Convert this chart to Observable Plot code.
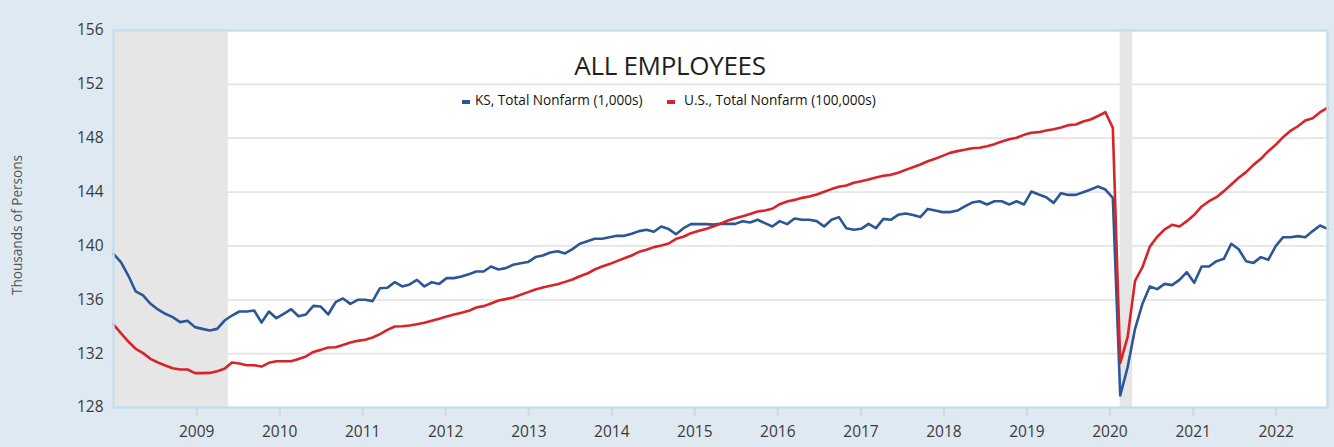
<!DOCTYPE html>
<html>
<head>
<meta charset="utf-8">
<script src="https://cdn.jsdelivr.net/npm/d3@7"></script>
<script src="https://cdn.jsdelivr.net/npm/@observablehq/plot@0.6"></script>
<style>
  html, body { margin: 0; padding: 0; background: #dfe9f2; }
  #wrap { position: relative; width: 1334px; height: 447px; overflow: hidden; font-family: "Open Sans", sans-serif; }
  #chart svg { display: block; }
  .title { position: absolute; left: 470px; width: 400px; top: 52px; text-align: center; font-size: 26px; line-height: 27px; color: #1f1f1f; letter-spacing: -0.3px; }
  .sw { position: absolute; width: 8px; height: 3.5px; top: 100px; }
  .lt { position: absolute; top: 91px; font-size: 13.6px; line-height: 18px; color: #141414; white-space: nowrap; }
</style>
</head>
<body>
<div id="wrap">
  <div id="chart"></div>
  <div class="title">ALL EMPLOYEES</div>
  <div class="sw" style="left:462px; background:#2b5797"></div>
  <div class="lt" style="left:475px">KS, Total Nonfarm (1,000s)</div>
  <div class="sw" style="left:667px; background:#d9232b"></div>
  <div class="lt" style="left:684px">U.S., Total Nonfarm (100,000s)</div>
</div>
<script>
// ---- data ----
const periodStart = "2008-01-01";
const periodEnd = "2022-08-15";

const ksValues = [
139.41, 138.79, 137.80, 136.62, 136.32, 135.70, 135.28, 134.96, 134.71, 134.34,
134.44, 133.97, 133.84, 133.72, 133.84, 134.46, 134.83, 135.13, 135.13, 135.20,
134.31, 135.13, 134.63, 134.96, 135.30, 134.78, 134.91, 135.55, 135.50, 134.91,
135.82, 136.10, 135.70, 136.00, 136.00, 135.90, 136.86, 136.89, 137.31, 136.99,
137.14, 137.48, 136.99, 137.31, 137.18, 137.61, 137.61, 137.73, 137.90, 138.10,
138.10, 138.47, 138.25, 138.35, 138.60, 138.72, 138.80, 139.17, 139.29, 139.51,
139.61, 139.44, 139.76, 140.16, 140.35, 140.53, 140.53, 140.65, 140.75, 140.75,
140.90, 141.10, 141.20, 141.05, 141.44, 141.25, 140.87, 141.32, 141.62, 141.62,
141.62, 141.58, 141.65, 141.64, 141.64, 141.84, 141.74, 141.94, 141.69, 141.44,
141.84, 141.62, 142.04, 141.94, 141.94, 141.84, 141.44, 141.94, 142.14, 141.32,
141.20, 141.27, 141.64, 141.32, 142.01, 141.94, 142.31, 142.41, 142.30, 142.14,
142.75, 142.63, 142.51, 142.51, 142.63, 142.93, 143.22, 143.32, 143.08, 143.32,
143.32, 143.08, 143.32, 143.08, 144.04, 143.82, 143.62, 143.20, 143.92, 143.79,
143.79, 143.99, 144.19, 144.41, 144.19, 143.57, 128.89, 130.99, 133.84, 135.70,
136.99, 136.79, 137.18, 137.09, 137.48, 138.05, 137.26, 138.47, 138.47, 138.87,
139.04, 140.16, 139.75, 138.87, 138.74, 139.17, 138.97, 139.98, 140.65, 140.65,
140.73, 140.65, 141.10, 141.52, 141.27
];

const usValues = [
134.16, 133.52, 132.90, 132.36, 132.04, 131.61, 131.34, 131.12, 130.92, 130.82,
130.82, 130.55, 130.55, 130.57, 130.70, 130.87, 131.34, 131.27, 131.14, 131.14,
131.04, 131.32, 131.44, 131.44, 131.44, 131.61, 131.79, 132.13, 132.28, 132.46,
132.48, 132.65, 132.83, 132.95, 133.03, 133.20, 133.45, 133.77, 134.02, 134.04,
134.09, 134.19, 134.29, 134.44, 134.59, 134.76, 134.91, 135.03, 135.18, 135.43,
135.53, 135.72, 135.95, 136.05, 136.17, 136.37, 136.57, 136.76, 136.91, 137.04,
137.16, 137.33, 137.51, 137.75, 137.95, 138.25, 138.47, 138.65, 138.87, 139.09,
139.29, 139.56, 139.71, 139.91, 140.03, 140.18, 140.53, 140.68, 140.95, 141.10,
141.25, 141.45, 141.65, 141.89, 142.06, 142.21, 142.38, 142.56, 142.63, 142.76,
143.10, 143.30, 143.42, 143.57, 143.67, 143.82, 144.02, 144.22, 144.39, 144.49,
144.69, 144.81, 144.93, 145.08, 145.21, 145.28, 145.43, 145.65, 145.85, 146.05,
146.29, 146.47, 146.69, 146.91, 147.04, 147.14, 147.26, 147.29, 147.41, 147.56,
147.76, 147.93, 148.03, 148.25, 148.40, 148.45, 148.57, 148.67, 148.80, 148.97,
149.02, 149.24, 149.39, 149.65, 149.93, 148.77, 131.30, 133.25, 137.40, 138.42,
139.95, 140.68, 141.23, 141.57, 141.44, 141.84, 142.31, 142.93, 143.32, 143.62,
144.07, 144.56, 145.06, 145.48, 146.02, 146.47, 147.04, 147.51, 148.08, 148.55,
148.89, 149.32, 149.49, 149.93, 150.26
];

const seriesNames = ["KS, Total Nonfarm (1,000s)", "U.S., Total Nonfarm (100,000s)"];
const seriesColors = ["#2b5797", "#d9232b"];
const yearLabels = [2009, 2010, 2011, 2012, 2013, 2014, 2015, 2016, 2017, 2018, 2019, 2020, 2021, 2022];
const yTickValues = [128, 132, 136, 140, 144, 148, 152, 156];
const recessionStarts = ["2008-01-01", "2020-02-15"];
const recessionEnds = ["2009-05-20", "2020-04-10"];
const yAxisTitle = "Thousands of Persons";

// ---- build tables ----
const t0 = new Date(periodStart), t1 = new Date(periodEnd);
const n = ksValues.length;
const dateAt = i => new Date(+t0 + (t1 - t0) * i / (n - 1));
const rows = [];
ksValues.forEach((v, i) => rows.push({date: dateAt(i), value: v, series: seriesNames[0]}));
usValues.forEach((v, i) => rows.push({date: dateAt(i), value: v, series: seriesNames[1]}));
const recessions = recessionStarts.map((s, i) => ({start: new Date(s), end: new Date(recessionEnds[i])}));
const yearTicks = yearLabels.map(y => new Date(Date.UTC(y, 0, 1)));
const yMin = yTickValues[0], yMax = yTickValues[yTickValues.length - 1];

const chart = Plot.plot({
  width: 1334,
  height: 447,
  marginLeft: 113,
  marginRight: 7,
  marginTop: 30,
  marginBottom: 40,
  style: {background: "transparent", fontFamily: "'Open Sans', sans-serif", fontSize: "15.5px", color: "#3a3a3a"},
  x: {type: "utc", domain: [t0, t1]},
  y: {domain: [yMin, yMax]},
  color: {domain: seriesNames, range: seriesColors},
  marks: [
    Plot.frame({fill: "white", stroke: null}),
    Plot.ruleY(yTickValues.slice(1, -1), {stroke: "#e4e4e4", strokeWidth: 1.8}),
    Plot.rect(recessions, {x1: "start", x2: "end", y1: yMin, y2: yMax, fill: "#e6e6e6"}),
    Plot.line(rows, {x: "date", y: "value", z: "series", stroke: "series", strokeWidth: 2.6, strokeLinejoin: "round"}),
    Plot.frame({stroke: "#c6ddee", strokeWidth: 2.4}),
    Plot.axisX({ticks: yearTicks, tickFormat: d3.utcFormat("%Y"), tickSize: 9, tickPadding: 9, stroke: "#c6ddee", strokeWidth: 2.4, fill: "#3a3a3a", label: null}),
    Plot.axisY({ticks: yTickValues, tickSize: 0, tickPadding: 10, fill: "#3a3a3a", label: null}),
    Plot.text([yAxisTitle], {frameAnchor: "left", textAnchor: "middle", rotate: -90, dx: -96, dy: 6, fontSize: 13.6, fill: "#555", text: d => d})
  ]
});
document.getElementById("chart").appendChild(chart);
</script>
</body>
</html>
